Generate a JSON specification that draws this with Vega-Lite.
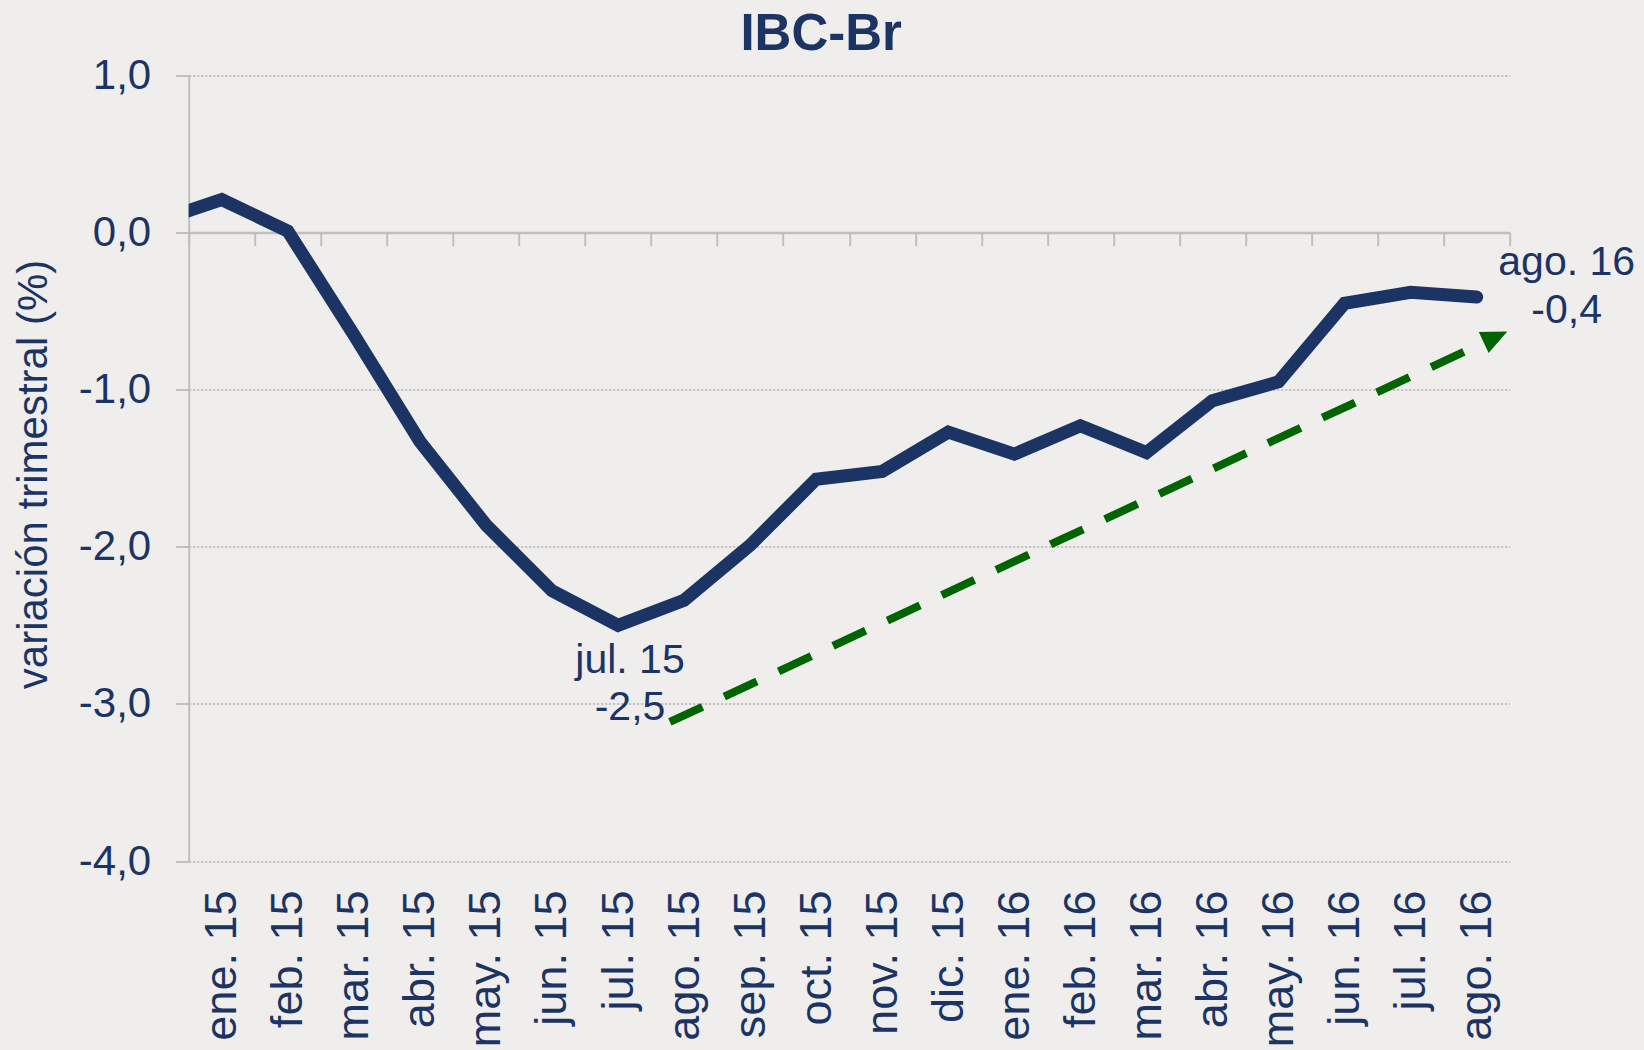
{
  "$schema": "https://vega.github.io/schema/vega-lite/v6.json",
  "autosize": "none",
  "width": 1321,
  "height": 785.5,
  "padding": {"left": 188.7, "top": 75.5, "right": 134.3, "bottom": 189},
  "background": "#efeeed",
  "config": {"view": {"stroke": null}, "font": "Liberation Sans"},
  "title": {
    "text": "IBC-Br",
    "font": "Liberation Sans",
    "fontSize": 51,
    "fontWeight": "bold",
    "color": "#1b3464",
    "anchor": "middle",
    "frame": "group",
    "dx": -28,
    "dy": 50,
    "offset": 4,
    "baseline": "alphabetic"
  },
  "datasets": {
    "serie": [
      {"idx": 0, "mes": "dic. 14", "valor": 0.07},
      {"idx": 1, "mes": "ene. 15", "valor": 0.21},
      {"idx": 2, "mes": "feb. 15", "valor": 0.01},
      {"idx": 3, "mes": "mar. 15", "valor": -0.65},
      {"idx": 4, "mes": "abr. 15", "valor": -1.33},
      {"idx": 5, "mes": "may. 15", "valor": -1.86},
      {"idx": 6, "mes": "jun. 15", "valor": -2.28},
      {"idx": 7, "mes": "jul. 15", "valor": -2.5},
      {"idx": 8, "mes": "ago. 15", "valor": -2.34},
      {"idx": 9, "mes": "sep. 15", "valor": -1.99},
      {"idx": 10, "mes": "oct. 15", "valor": -1.57},
      {"idx": 11, "mes": "nov. 15", "valor": -1.52},
      {"idx": 12, "mes": "dic. 15", "valor": -1.27},
      {"idx": 13, "mes": "ene. 16", "valor": -1.41},
      {"idx": 14, "mes": "feb. 16", "valor": -1.23},
      {"idx": 15, "mes": "mar. 16", "valor": -1.4},
      {"idx": 16, "mes": "abr. 16", "valor": -1.07},
      {"idx": 17, "mes": "may. 16", "valor": -0.95},
      {"idx": 18, "mes": "jun. 16", "valor": -0.45},
      {"idx": 19, "mes": "jul. 16", "valor": -0.38},
      {"idx": 20, "mes": "ago. 16", "valor": -0.41}
    ],
    "flecha": [
      {"idx": 7.785, "valor": -3.115},
      {"idx": 20.105, "valor": -0.7}
    ],
    "punta": [
      {"idx": 20.285, "valor": -0.665}
    ]
  },
  "layer": [
    {
      "data": {"name": "serie"},
      "mark": {"type": "line", "color": "#1b3464", "strokeWidth": 13, "strokeCap": "round", "strokeJoin": "miter", "clip": true},
      "encoding": {
        "x": {
          "field": "idx",
          "type": "quantitative",
          "scale": {"domain": [0.5, 20.5], "nice": false, "zero": false},
          "axis": {
            "values": [1, 2, 3, 4, 5, 6, 7, 8, 9, 10, 11, 12, 13, 14, 15, 16, 17, 18, 19, 20],
            "labelExpr": "['ene. 15','feb. 15','mar. 15','abr. 15','may. 15','jun. 15','jul. 15','ago. 15','sep. 15','oct. 15','nov. 15','dic. 15','ene. 16','feb. 16','mar. 16','abr. 16','may. 16','jun. 16','jul. 16','ago. 16'][datum.value - 1]",
            "labelAngle": -90,
            "labelFontSize": 45,
            "labelFont": "Liberation Sans",
            "labelColor": "#1b3464",
            "labelPadding": 29,
            "labelOverlap": false,
            "labelBound": false,
            "labelFlush": false,
            "ticks": false,
            "domain": false,
            "grid": false,
            "title": null
          }
        },
        "y": {
          "field": "valor",
          "type": "quantitative",
          "scale": {"domain": [-4, 1], "nice": false, "zero": false},
          "axis": {
            "values": [-4, -3, -2, -1, 0, 1],
            "labelExpr": "(datum.value < 0 ? '-' : '') + replace(format(abs(datum.value), '.1f'), '.', ',')",
            "labelFontSize": 42,
            "labelFont": "Liberation Sans",
            "labelColor": "#1b3464",
            "labelPadding": 25,
            "tickSize": 13,
            "tickColor": "#bfbfbf",
            "tickWidth": 2,
            "domainColor": "#bfbfbf",
            "domainWidth": 2,
            "grid": true,
            "gridColor": "#b0b0b0",
            "gridDash": [2, 2],
            "gridWidth": 1.5,
            "title": "variación trimestral (%)",
            "titleFont": "Liberation Sans",
            "titleFontSize": 42,
            "titleFontWeight": "normal",
            "titleColor": "#1b3464",
            "titleAngle": -90,
            "titleAlign": "center",
            "titleBaseline": "alphabetic",
            "titleX": -142,
            "titleY": 398.5
          }
        }
      }
    },
    {
      "data": {"name": "flecha"},
      "mark": {"type": "line", "color": "#006400", "strokeWidth": 8, "strokeDash": [36, 24], "strokeCap": "butt"},
      "encoding": {
        "x": {
          "field": "idx",
          "type": "quantitative",
          "axis": {
            "orient": "bottom",
            "offset": -628.4,
            "values": [0.5, 1.5, 2.5, 3.5, 4.5, 5.5, 6.5, 7.5, 8.5, 9.5, 10.5, 11.5, 12.5, 13.5, 14.5, 15.5, 16.5, 17.5, 18.5, 19.5, 20.5],
            "labels": false,
            "ticks": true,
            "tickSize": 13,
            "tickColor": "#bfbfbf",
            "tickWidth": 2,
            "domain": true,
            "domainColor": "#bfbfbf",
            "domainWidth": 2.5,
            "grid": false,
            "title": null
          }
        },
        "y": {"field": "valor", "type": "quantitative"}
      }
    },
    {
      "data": {"name": "punta"},
      "mark": {"type": "point", "shape": "M0,-1L0.89,1L-0.89,1Z", "size": 676, "angle": 65, "filled": true, "color": "#006400", "opacity": 1},
      "encoding": {
        "x": {"field": "idx", "type": "quantitative", "axis": null},
        "y": {"field": "valor", "type": "quantitative"}
      }
    },
    {
      "data": {"values": [{"idx": 7, "valor": -2.5, "texto": "jul. 15\n-2,5"}]},
      "mark": {"type": "text", "lineBreak": "\n", "fontSize": 41, "font": "Liberation Sans", "color": "#1b3464", "align": "center", "baseline": "alphabetic", "dx": 12, "dy": 47.6, "lineHeight": 47},
      "encoding": {
        "x": {"field": "idx", "type": "quantitative", "axis": null},
        "y": {"field": "valor", "type": "quantitative"},
        "text": {"field": "texto"}
      }
    },
    {
      "data": {"values": [{"idx": 20, "valor": -0.41, "texto": "ago. 16\n-0,4"}]},
      "mark": {"type": "text", "lineBreak": "\n", "fontSize": 41, "font": "Liberation Sans", "color": "#1b3464", "align": "center", "baseline": "alphabetic", "dx": 90, "dy": -22, "lineHeight": 48},
      "encoding": {
        "x": {"field": "idx", "type": "quantitative", "axis": null},
        "y": {"field": "valor", "type": "quantitative"},
        "text": {"field": "texto"}
      }
    }
  ],
  "resolve": {"axis": {"x": "independent"}}
}
